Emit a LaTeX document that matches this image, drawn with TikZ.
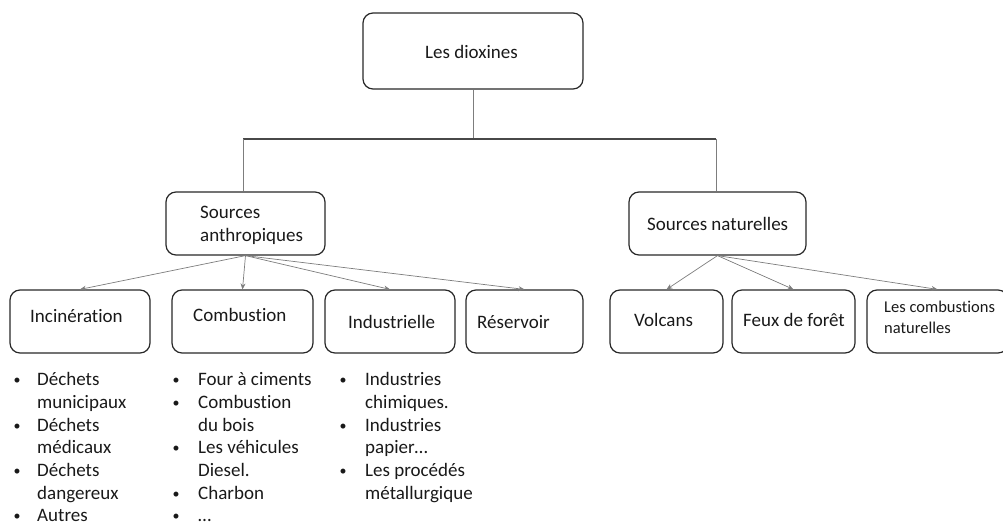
\documentclass[tikz,border=0pt]{standalone}
\usepackage{fontspec}
\setmainfont{Carlito}[Ligatures={NoCommon,NoDiscretionary}]
\usetikzlibrary{arrows.meta}
\definecolor{boxline}{RGB}{40,40,40}
\definecolor{txt}{RGB}{25,25,25}
\definecolor{conn}{RGB}{125,125,125}
\begin{document}
\begin{tikzpicture}[x=1pt,y=-1pt,
  box/.style={draw=boxline,line width=1.2pt,rounded corners=10pt,inner sep=0pt,minimum width=#1},
  tx/.style={anchor=base west,inner sep=0pt,text=txt,font=\fontsize{19}{23}\selectfont},
  txs/.style={anchor=base west,inner sep=0pt,text=txt,font=\fontsize{16.5}{20}\selectfont},
  bul/.style={anchor=base,inner sep=0pt,text=txt,font=\fontsize{14}{17}\selectfont},
  arr/.style={draw=conn,line width=0.7pt,-{Stealth[length=6pt,width=5pt]}},
  ln/.style={draw=conn,line width=0.9pt},
  hl/.style={draw=boxline!85,line width=1.3pt}]
\useasboundingbox (0,0) rectangle (1003,525);
% top box
\node[box=220pt,minimum height=76pt] (diox) at (473,51) {};
\node[tx] (tdiox) at (425,58) {Les dioxines};
% level 2
\node[box=159pt,minimum height=63pt] (sa) at (245.5,223.5) {};
\node[tx] (tsa1) at (200,218) {Sources};
\node[tx] (tsa2) at (200,241) {anthropiques};
\node[box=177pt,minimum height=63pt] (sn) at (717.5,223.5) {};
\node[tx] (tsn) at (647,230) {Sources naturelles};
% tree lines
\coordinate (mid) at (473,139);
\coordinate (jl) at (243,139);
\coordinate (jr) at (716,139);
\draw[ln] (diox.south) -- (mid);
\draw[hl] (jl) -- (jr);
\draw[ln] (jl) -- (jl |- sa.north);
\draw[ln] (jr) -- (jr |- sn.north);
% level 3
\node[box=140pt,minimum height=63pt] (inc) at (80,321.5) {};
\node[tx] (tinc) at (30,322) {Incinération};
\node[box=141pt,minimum height=63pt] (comb) at (242.5,321.5) {};
\node[tx] (tcomb) at (193,321) {Combustion};
\node[box=130pt,minimum height=63pt] (ind) at (390,321.5) {};
\node[tx] (tind) at (348,328) {Industrielle};
\node[box=117pt,minimum height=63pt] (res) at (524.5,321.5) {};
\node[tx] (tres) at (477,328) {Réservoir};
\node[box=113pt,minimum height=63pt] (volc) at (666.5,321.5) {};
\node[tx] (tvolc) at (634,326) {Volcans};
\node[box=123pt,minimum height=63pt] (feux) at (793.5,321.5) {};
\node[tx] (tfeux) at (743,326) {Feux de forêt};
\node[box=141pt,minimum height=63pt] (cn) at (937.5,321.5) {};
\node[txs] (tcn1) at (884,312) {Les combustions};
\node[txs] (tcn2) at (884,333) {naturelles};
% arrows
\draw[arr] (sa.south) -- (inc.north);
\draw[arr] (sa.south) -- (comb.north);
\draw[arr] (sa.south) -- (ind.north);
\draw[arr] (sa.south) -- (res.north);
\draw[arr] (sn.south) -- (volc.north);
\draw[arr] (sn.south) -- (feux.north);
\draw[arr] (sn.south) -- (cn.north);
% bullet lists column 1
\node[bul] (b11) at (17,384) {•};
\node[tx] (l11) at (37,385) {Déchets};
\node[tx] (l12) at (37,408) {municipaux};
\node[bul] (b12) at (17,430) {•};
\node[tx] (l13) at (37,431) {Déchets};
\node[tx] (l14) at (37,453.5) {médicaux};
\node[bul] (b13) at (17,475.5) {•};
\node[tx] (l15) at (37,476.5) {Déchets};
\node[tx] (l16) at (37,499) {dangereux};
\node[bul] (b14) at (17,520.5) {•};
\node[tx] (l17) at (37,521.5) {Autres};
% column 2
\node[bul] (b21) at (176,384) {•};
\node[tx] (l21) at (198,385) {Four à ciments};
\node[bul] (b22) at (176,407) {•};
\node[tx] (l22) at (198,408) {Combustion};
\node[tx] (l23) at (198,431) {du bois};
\node[bul] (b23) at (176,452.5) {•};
\node[tx] (l24) at (198,453.5) {Les véhicules};
\node[tx] (l25) at (198,476.5) {Diesel.};
\node[bul] (b24) at (176,498) {•};
\node[tx] (l26) at (198,499) {Charbon};
\node[bul] (b25) at (176,520.5) {•};
\node[tx] (l27) at (198,521.5) {…};
% column 3
\node[bul] (b31) at (343,384) {•};
\node[tx] (l31) at (365,385) {Industries};
\node[tx] (l32) at (365,408) {chimiques.};
\node[bul] (b32) at (343,430) {•};
\node[tx] (l33) at (365,431) {Industries};
\node[tx] (l34) at (365,453.5) {papier…};
\node[bul] (b33) at (343,475.5) {•};
\node[tx] (l35) at (365,476.5) {Les procédés};
\node[tx] (l36) at (365,499) {métallurgique};
\end{tikzpicture}
\end{document}
